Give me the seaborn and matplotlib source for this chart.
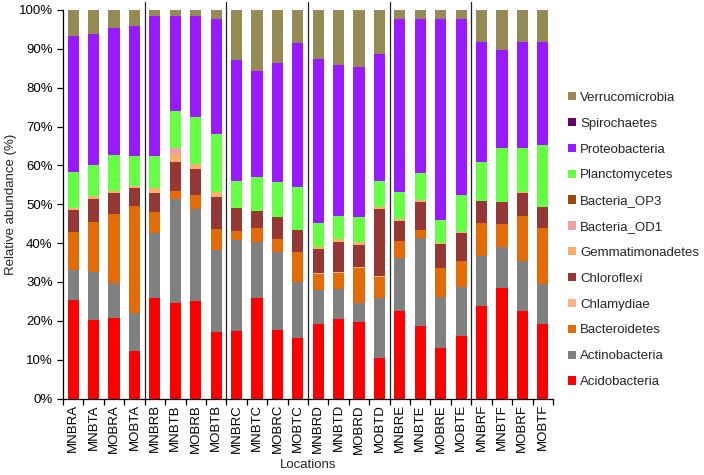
import matplotlib
matplotlib.use("Agg")
import matplotlib.pyplot as plt
import seaborn as sns
import pandas as pd
from matplotlib.ticker import FixedLocator, FuncFormatter

sns.set_style("ticks")
plt.rcParams["font.family"] = ["Liberation Sans", "DejaVu Sans"]

# sample locations, in plotting order
locations = [
    "MNBRA", "MNBTA", "MOBRA", "MOBTA",
    "MNBRB", "MNBTB", "MOBRB", "MOBTB",
    "MNBRC", "MNBTC", "MOBRC", "MOBTC",
    "MNBRD", "MNBTD", "MOBRD", "MOBTD",
    "MNBRE", "MNBTE", "MOBRE", "MOBTE",
    "MNBRF", "MNBTF", "MOBRF", "MOBTF",
]

# relative abundance (%) per phylum, bottom of stack first
acidobacteria = [25.4, 20.2, 20.7, 12.3, 25.9, 24.6, 25.1, 17.1, 17.5, 25.8, 17.6, 15.6,
                 19.2, 20.5, 19.7, 10.5, 22.6, 18.7, 12.9, 16.1, 23.9, 28.4, 22.5, 19.3]
actinobacteria = [7.8, 12.4, 9.0, 9.6, 16.6, 26.7, 23.6, 21.1, 23.3, 14.4, 20.2, 14.4,
                  8.7, 7.8, 4.8, 15.4, 13.6, 22.6, 13.2, 12.7, 12.8, 10.5, 13.0, 10.2]
bacteroidetes = [9.7, 12.9, 17.9, 27.7, 5.5, 2.2, 3.7, 5.4, 2.3, 3.6, 3.2, 7.8,
                 4.1, 3.9, 9.0, 5.4, 4.4, 2.2, 7.6, 6.6, 8.6, 6.0, 11.5, 14.4]
chlamydiae = [0, 0, 0, 0, 0, 0, 0, 0, 0, 0, 0, 0,
              0.3, 0.3, 0.3, 0.3, 0, 0, 0, 0, 0, 0, 0, 0]
chloroflexi = [5.5, 5.8, 5.4, 4.6, 5.0, 7.5, 6.6, 8.3, 6.0, 4.5, 5.8, 5.7,
               6.1, 7.8, 5.7, 17.1, 5.1, 7.1, 6.0, 7.1, 5.5, 5.8, 5.8, 5.4]
gemmatimonadetes = [0.6, 0.7, 0.4, 0.5, 1.2, 2.0, 1.4, 1.3, 0, 0, 0, 0,
                    0.7, 0.7, 0.8, 0.7, 0.4, 0.5, 0.3, 0.3, 0, 0, 0.3, 0]
bacteria_od1 = [0, 0, 0, 0, 0, 1.4, 0, 0, 0, 0, 0, 0,
                0, 0, 0, 0, 0, 0, 0, 0, 0, 0, 0, 0]
bacteria_op3 = [0] * 24
planctomycetes = [9.3, 8.2, 9.2, 7.7, 8.3, 9.7, 12.1, 14.8, 6.8, 8.6, 9.0, 11.0,
                  6.2, 5.9, 6.4, 6.5, 7.0, 7.0, 5.9, 9.6, 10.0, 13.9, 11.5, 15.9]
proteobacteria = [35.1, 33.6, 32.7, 33.5, 36.0, 24.4, 26.0, 29.8, 31.2, 27.4, 30.6, 36.9,
                  42.1, 38.9, 38.5, 32.8, 44.5, 39.5, 51.7, 45.4, 31.0, 25.1, 27.2, 26.6]
spirochaetes = [0] * 24
verrucomicrobia = [6.6, 6.2, 4.7, 4.1, 1.5, 1.5, 1.5, 2.2, 12.9, 15.7, 13.6, 8.6,
                   12.6, 14.2, 14.8, 11.3, 2.4, 2.4, 2.4, 2.2, 8.2, 10.3, 8.2, 8.2]

# legend order (top to bottom) -> seaborn stacks first hue level on top
phyla = {
    "Verrucomicrobia": (verrucomicrobia, "#948A54"),
    "Spirochaetes": (spirochaetes, "#660066"),
    "Proteobacteria": (proteobacteria, "#9A1AFF"),
    "Planctomycetes": (planctomycetes, "#66FF44"),
    "Bacteria_OP3": (bacteria_op3, "#984807"),
    "Bacteria_OD1": (bacteria_od1, "#EFA0A4"),
    "Gemmatimonadetes": (gemmatimonadetes, "#FAB06A"),
    "Chloroflexi": (chloroflexi, "#953735"),
    "Chlamydiae": (chlamydiae, "#F8B58C"),
    "Bacteroidetes": (bacteroidetes, "#E36C09"),
    "Actinobacteria": (actinobacteria, "#808080"),
    "Acidobacteria": (acidobacteria, "#FF0000"),
}

rows = []
for loc_i, loc in enumerate(locations):
    for name, (vals, _) in phyla.items():
        rows.append({"Location": loc, "Phylum": name, "Abundance": vals[loc_i]})
df = pd.DataFrame(rows)
df["Location"] = pd.Categorical(df["Location"], categories=locations, ordered=True)

hue_order = list(phyla.keys())
palette = {k: v[1] for k, v in phyla.items()}

fig = plt.figure(figsize=(7.04, 4.75), dpi=100)
ax = fig.add_axes([0.0895, 0.161, 0.696, 0.818])

sns.histplot(
    data=df, x="Location", hue="Phylum", weights="Abundance",
    multiple="stack", discrete=True, shrink=0.55,
    hue_order=hue_order, palette=palette, alpha=1,
    linewidth=0, edgecolor="none", ax=ax,
)

ax.set_xlim(-0.5, len(locations) - 0.5)
ax.set_ylim(0, 100)
ax.set_yticks(range(0, 101, 10))
ax.yaxis.set_major_formatter(FuncFormatter(lambda v, _: f"{int(v)}%"))
ax.set_xticks(range(len(locations)))
ax.set_xticklabels(locations, rotation=90)
ax.xaxis.set_minor_locator(FixedLocator([i - 0.5 for i in range(len(locations) + 1)]))
ax.tick_params(axis="x", which="major", length=0, pad=4, labelsize=9.5, colors="black")
ax.tick_params(axis="x", which="minor", length=4, width=0.9, color="black")
ax.tick_params(axis="y", length=4, width=0.9, labelsize=9.5, colors="black")

# group separators between site letters
for xpos in [3.5, 7.5, 11.5, 15.5, 19.5]:
    ax.plot([xpos, xpos], [0, 102], color="#222222", lw=0.9, clip_on=False)

sns.despine(ax=ax)
for sp in ["left", "bottom"]:
    ax.spines[sp].set_color("black")
    ax.spines[sp].set_linewidth(0.9)

ax.set_xlabel("Locations", fontsize=9.5, labelpad=4)
ax.set_ylabel("Relative abundance (%)", fontsize=9.5, labelpad=1)

sns.move_legend(
    ax, "center left", bbox_to_anchor=(1.03, 0.408), frameon=False, title=None,
    fontsize=9.5, labelspacing=1.05, handlelength=0.6, handleheight=0.6,
    handletextpad=0.35, borderaxespad=0, borderpad=0,
)

fig.savefig("out.png", dpi=100)
